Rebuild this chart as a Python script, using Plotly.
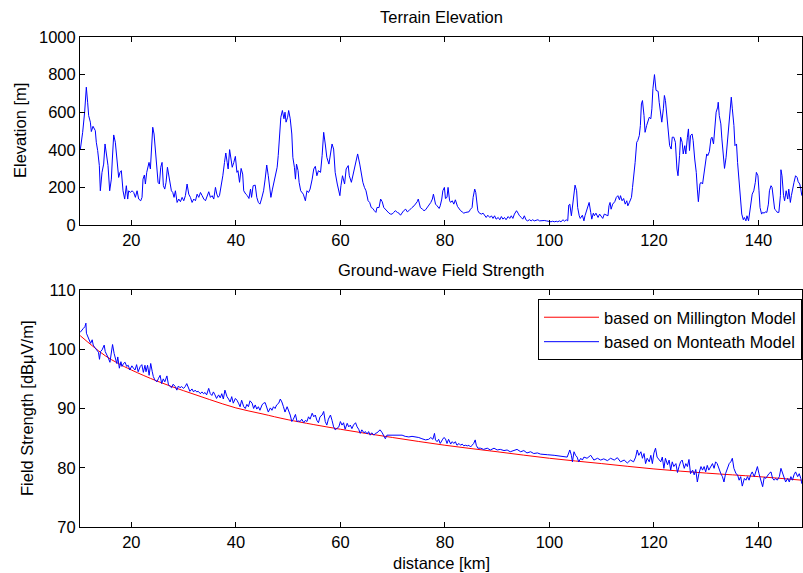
import plotly.graph_objects as go

# ---------------- data ----------------
elev_km = [10.23, 10.68, 11.06, 11.38, 11.63, 11.83, 12.15, 12.34, 12.66, 13.10, 13.29, 13.55, 13.87, 14.06, 14.38,
           14.70, 14.96, 15.21, 15.53, 15.85, 16.17, 16.36, 16.62, 16.93, 17.25, 17.57, 17.83, 18.08, 18.40, 18.72,
           19.04, 19.30, 19.49, 19.81, 20.13, 20.45, 20.77, 21.09, 21.40, 21.79, 22.04, 22.23, 22.49, 22.68, 22.94,
           23.19, 23.38, 23.64, 23.83, 24.09, 24.34, 24.60, 24.85, 25.11, 25.36, 25.62, 25.87, 26.13, 26.39, 26.64,
           26.90, 27.15, 27.41, 27.66, 27.92, 28.17, 28.43, 28.75, 29.07, 29.39, 29.71, 30.03, 30.34, 30.66, 30.98,
           31.30, 31.62, 31.94, 32.26, 32.58, 32.90, 33.22, 33.54, 33.86, 34.18, 34.50, 34.81, 35.13, 35.45, 35.77,
           36.09, 36.35, 36.60, 36.86, 37.18, 37.50, 37.82, 38.07, 38.33, 38.52,
           38.8, 39.0, 39.3, 39.6, 39.9, 40.2, 40.4, 40.7, 41.0, 41.3, 41.5, 41.9, 42.2, 42.5, 42.8, 43.0, 43.3, 43.7,
           44.0, 44.3, 44.6, 44.9, 45.3, 45.6, 45.9, 46.2, 46.5, 46.7, 47.0, 47.3, 47.6, 47.9, 48.1, 48.4, 48.6, 48.9,
           49.2, 49.4, 49.6, 49.9, 50.1, 50.4, 50.7, 50.9, 51.2, 51.4, 51.6, 51.9, 52.1, 52.4, 52.6, 52.9, 53.3, 53.6,
           53.9, 54.2, 54.6, 54.9, 55.2, 55.5, 55.8, 56.2, 56.5, 56.8, 57.1, 57.4, 57.8, 58.1, 58.4, 58.7, 59.0, 59.4,
           59.7, 59.9, 60.1, 60.4, 60.8, 61.1, 61.5, 61.7, 62.1, 62.4, 62.7, 63.0, 63.3, 63.7, 64.0, 64.3, 64.6, 64.9,
           65.3, 65.6, 65.9, 66.2, 66.5, 66.8, 67.0, 67.4, 67.7, 68.0, 68.3, 68.6, 69.0, 69.3, 69.6, 69.9, 70.2, 70.5,
           70.9, 71.2, 71.5, 71.8, 72.1, 72.5, 72.8, 73.1, 73.4, 73.7, 74.1, 74.4, 74.7, 74.9, 75.1, 75.3, 75.7, 76.0,
           76.3, 76.6, 76.9, 77.3, 77.6, 77.8, 78.0, 78.2, 78.5, 78.9, 79.1, 79.4, 79.6, 79.9, 80.1, 80.4, 80.6, 80.9,
           81.1, 81.4, 81.7, 82.0, 82.4, 82.7, 83.0, 83.3, 83.6, 84.0, 84.3, 84.6, 84.9, 85.2, 85.4, 85.7, 85.9, 86.1,
           86.3, 86.6, 87.0, 87.3, 87.6, 87.9, 88.2, 88.6, 88.9, 89.2, 89.5, 89.8, 90.2, 90.5, 90.8, 91.1, 91.4, 91.7,
           92.1, 92.4, 92.7, 93.0, 93.3, 93.7, 94.0, 94.2, 94.6, 94.9, 95.2, 95.5, 95.8, 96.2, 96.5, 96.8, 97.1, 97.4,
           97.8, 98.1, 98.4, 98.7, 99.0, 99.4, 99.7, 100.0, 100.3, 100.6, 101.0, 101.3, 101.6, 101.9, 102.2, 102.6,
           102.9, 103.2, 103.5, 103.7, 103.9, 104.2, 104.4, 104.7, 104.9, 105.2, 105.4, 105.7, 105.9, 106.3, 106.6,
           106.8, 107.1, 107.3, 107.6, 107.9, 108.1, 108.4, 108.6, 108.9, 109.3, 109.6, 109.9, 110.2, 110.5, 110.9,
           111.2, 111.4, 111.6, 111.8, 112.1, 112.5, 112.8, 113.1, 113.4, 113.6, 113.9, 114.2, 114.5, 114.8, 115.0,
           115.3, 115.7, 115.9, 116.2, 116.4, 116.7, 116.9, 117.2, 117.4, 117.6, 117.8, 118.1, 118.3, 118.6, 118.8,
           119.1, 119.4, 119.6, 119.8, 120.1, 120.4, 120.8, 121.0, 121.3, 121.5, 121.8, 122.0, 122.2, 122.5, 122.7,
           123.0, 123.3, 123.5, 123.8, 124.1, 124.4, 124.6, 124.9, 125.1, 125.4, 125.6, 125.9, 126.1, 126.4, 126.6,
           126.8, 127.0, 127.3, 127.5, 127.8, 128.1, 128.3, 128.5, 128.8, 129.0, 129.3, 129.6, 129.8, 130.1, 130.3,
           130.6, 130.9, 131.1, 131.4, 131.6, 131.9, 132.2, 132.3, 132.5, 132.8, 133.0, 133.3, 133.5, 133.8, 134.1,
           134.3, 134.6, 134.8, 135.0, 135.3, 135.5, 135.8, 136.0, 136.3, 136.5, 136.8, 137.1, 137.3, 137.6, 137.8,
           138.1, 138.3, 138.6, 138.8, 139.1, 139.4, 139.6, 139.9, 140.1, 140.3, 140.6, 140.8, 141.1, 141.3, 141.6,
           141.9, 142.1, 142.4, 142.6, 142.9, 143.1, 143.4, 143.6, 143.9, 144.2, 144.3, 144.5, 144.8, 145.0, 145.3,
           145.6, 145.8, 146.1, 146.3, 146.6, 146.8, 147.1, 147.4, 147.6, 147.9, 148.1, 148.3]

elev_m = [401, 493, 600, 733, 653, 582, 547, 497, 525, 502, 440, 396, 316, 182, 280,
          324, 431, 369, 316, 182, 244, 351, 479, 440, 342, 253, 280, 289, 182, 138,
          209, 138, 182, 173, 182, 173, 147, 182, 138, 129, 147, 244, 266, 218, 280,
          307, 333, 298, 422, 520, 484, 387, 333, 227, 218, 307, 333, 209, 191, 227,
          307, 262, 209, 182, 173, 147, 182, 120, 138, 124, 147, 129, 156, 218, 164,
          147, 120, 138, 129, 164, 147, 173, 156, 138, 129, 156, 177, 147, 156, 138,
          200, 164, 147, 156, 200, 262, 333, 383, 333, 298,
          401, 369, 307, 333, 365, 280, 289, 227, 301, 271, 182, 164, 156, 141, 191, 147, 209, 212,
          147, 120, 111, 138, 182, 244, 319, 262, 173, 147, 191, 227, 262, 307, 369, 476, 573, 609,
          565, 600, 547, 573, 609, 565, 484, 360, 307, 244, 324, 289, 227, 182, 173, 164, 129, 182,
          173, 191, 244, 298, 312, 262, 289, 280, 369, 493, 431, 360, 324, 387, 431, 404, 280, 218,
          182, 156, 209, 262, 218, 298, 316, 262, 227, 262, 298, 342, 378, 324, 262, 227, 200, 182,
          129, 120, 93, 88, 76, 67, 93, 93, 138, 124, 93, 84, 67, 63, 58, 58, 67, 76,
          67, 63, 52, 67, 76, 84, 70, 76, 88, 93, 102, 111, 124, 138, 111, 93, 84, 76,
          81, 93, 102, 120, 138, 164, 138, 111, 102, 88, 102, 138, 182, 200, 141, 147, 200, 129,
          120, 129, 111, 134, 99, 84, 76, 70, 63, 67, 67, 70, 84, 93, 147, 191, 173, 111,
          76, 63, 58, 63, 49, 40, 52, 40, 49, 35, 49, 31, 40, 28, 45, 31, 40, 28,
          45, 35, 49, 35, 58, 76, 63, 52, 40, 31, 49, 28, 22, 28, 22, 28, 22, 26,
          28, 22, 24, 22, 24, 22, 20, 22, 17, 20, 17, 20, 17, 22, 17, 28,
          20, 28, 22, 106, 111, 49, 93, 156, 212, 182, 93, 49, 35, 52, 22,
          49, 76, 102, 120, 67, 31, 63, 49, 63, 40, 58, 49, 35, 58, 52,
          49, 102, 120, 84, 111, 124, 147, 156, 134, 156, 129, 141, 111, 129, 102,
          120, 147, 200, 262, 333, 440, 449, 476, 529, 644, 662, 582, 493, 529, 547,
          573, 565, 618, 725, 800, 716, 711, 653, 600, 547, 618, 689, 662, 565, 493,
          422, 404, 467, 467, 440, 298, 262, 369, 467, 440, 378, 422, 378, 467, 511,
          396, 476, 484, 449, 351, 280, 191, 124, 218, 227, 218, 280, 316, 378, 369,
          390, 458, 467, 431, 511, 600, 627, 653, 582, 538, 458, 351, 301, 360, 449,
          529, 600, 680, 618, 529, 422, 431, 333, 227, 120, 58, 28, 40, 22, 49,
          22, 58, 111, 164, 182, 227, 280, 262, 182, 93, 58, 67, 63, 70, 67,
          111, 182, 209, 200, 120, 84, 76, 67, 67, 156, 294, 262, 156, 129, 182,
          138, 191, 120, 156, 209, 227, 262, 253, 230, 218, 191, 156]

mill_km = [10.2, 12.5, 15, 17.5, 20, 25, 30, 35, 40, 45, 50, 60, 70, 80, 90, 100, 110, 120, 130, 140, 148.3]
mill_db = [102.3, 100.6, 98.9, 97.6, 96.5, 94.6, 93.0, 91.5, 90.1, 89.1, 88.1, 86.5, 85.1, 83.8, 82.7, 81.6,
           80.7, 79.8, 79.1, 78.5, 77.9]

mont_km = [10.2, 10.5, 10.8, 11.1, 11.3, 11.4, 11.7, 12.0, 12.2, 12.5, 12.7, 13.0, 13.4, 13.7, 13.9, 14.1, 14.4,
           14.8, 15.0, 15.3, 15.6, 15.9, 16.2, 16.4, 16.7, 16.9, 17.2, 17.4, 17.7, 18.0, 18.2, 18.5, 18.8, 19.1,
           19.4, 19.7, 20.1, 20.4, 20.7, 21.0, 21.3, 21.7, 22.0, 22.3, 22.6, 22.8, 23.1, 23.4, 23.7, 24.0, 24.2,
           24.5, 24.9, 25.2, 25.5, 25.8, 26.1, 26.4, 26.8, 27.1, 27.4, 27.7, 28.0, 28.4, 28.7, 29.0, 29.3, 29.6,
           30.0, 30.3, 30.6, 30.9, 31.2, 31.6, 31.9, 32.2, 32.5, 32.8, 33.2, 33.5, 33.8, 34.1, 34.4, 34.8, 35.1,
           35.4, 35.7, 36.0, 36.3, 36.7, 37.0, 37.3, 37.6, 37.9, 38.3, 38.6, 38.9, 39.2, 39.5, 39.9, 40.2, 40.5,
           40.8, 41.1, 41.5, 41.8, 42.1, 42.4, 42.7, 43.1, 43.4, 43.7, 44.0, 44.3, 44.6, 45.0, 45.3, 45.6, 45.9,
           46.2, 46.6, 46.9, 47.2, 47.5, 47.8, 48.2, 48.5, 48.8, 49.1, 49.4, 49.8, 50.1, 50.4, 50.7, 51.0, 51.4,
           51.7, 52.0, 52.3, 52.6, 53.0, 53.3, 53.6, 53.9, 54.2, 54.6, 54.9, 55.2, 55.5, 55.8, 56.1, 56.5, 56.8,
           57.1, 57.4, 57.7, 58.1, 58.4, 58.7, 59.0, 59.3, 59.7, 60.0, 60.3, 60.6, 60.9, 61.3, 61.6, 61.9, 62.2,
           62.5, 62.9, 63.2, 63.5, 63.8, 64.1, 64.5, 64.8, 65.1, 65.4, 65.7, 66.0, 66.4, 66.7, 67.0, 67.3, 67.6,
           68.0, 68.3, 68.6, 68.9, 69.2, 69.9, 70.5, 71.2, 71.8, 72.4, 73.1, 73.7, 74.4, 75.0, 75.6, 76.3, 76.9,
           77.3, 77.7, 78.0, 78.2, 78.5, 78.8, 79.1, 79.5, 79.8, 80.1, 80.4, 80.7, 81.1, 81.4, 81.7, 82.0, 82.3,
           82.7, 83.0, 83.3, 83.6, 83.9, 84.3, 84.6, 84.9, 85.2, 85.5, 85.8, 86.0, 86.3, 86.8, 87.4, 88.1, 88.7,
           89.4, 90.0, 90.6, 91.3, 91.9, 92.5, 93.2, 93.8, 94.5, 95.1, 95.7, 96.4, 97.0, 97.7, 98.3, 98.9, 99.6,
           100.9, 102.1, 103.4, 103.9, 104.2, 104.4, 104.7, 105.0, 105.3, 105.6, 106.0, 106.3, 106.6, 107.2,
           107.9, 108.5, 109.2, 109.8, 110.4, 111.1, 111.7, 112.4, 113.0, 113.6, 114.3, 114.9, 115.5, 116.1,
           116.5, 116.8, 117.1, 117.5, 117.8, 118.1, 118.4, 118.7, 119.1, 119.4, 119.7, 120.0, 120.3, 120.6,
           121.0, 121.3, 121.6, 121.9, 122.2, 122.6, 122.9, 123.2, 123.5, 123.8, 124.2, 124.5, 124.8, 125.1,
           125.4, 125.8, 126.1, 126.4, 126.7, 127.0, 127.4, 127.7, 128.0, 128.3, 128.6, 129.0, 129.3, 129.6,
           129.9, 130.2, 130.5, 130.9, 131.2, 131.5, 131.8, 132.1, 132.5, 132.8, 133.1, 133.4, 133.7, 134.1,
           134.4, 134.7, 135.0, 135.3, 135.7, 136.0, 136.3, 136.6, 136.9, 137.3, 137.6, 137.9, 138.2, 138.5,
           138.8, 139.2, 139.5, 139.8, 140.1, 140.4, 140.8, 141.1, 141.4, 141.7, 142.0, 142.4, 142.7, 143.0,
           143.3, 143.6, 144.0, 144.3, 144.6, 144.9, 145.2, 145.6, 145.9, 146.2, 146.5, 146.8, 147.1, 147.5,
           147.8, 148.1, 148.3]

mont_db = [102.85, 103.1, 103.5, 103.8, 104.4, 102.7, 102.1, 101.6, 101.0, 101.6, 100.7, 100.3, 99.9, 99.5, 98.3,
           99.6, 99.9, 100.7, 99.6, 99.1, 98.5, 97.8, 99.9, 100.8, 99.3, 98.5, 97.6, 98.7, 96.8, 97.9, 97.1, 97.6,
           97.8, 97.1, 97.3, 96.5, 97.2, 96.8, 96.5, 97.4, 96.2, 97.1, 97.4, 96.1, 97.3, 96.2, 97.3, 95.6, 97.6,
           96.2, 95.4, 94.8, 94.5, 95.1, 95.6, 94.2, 95.0, 94.5, 95.5, 94.0, 93.7, 93.5, 94.1, 93.7, 93.1, 93.8,
           93.5, 93.7, 93.4, 93.7, 94.2, 93.4, 92.9, 93.3, 92.8, 93.1, 92.8, 92.9, 92.5, 92.8, 92.5, 92.7, 92.3,
           93.4, 92.5, 92.2, 92.8, 92.3, 91.7, 92.3, 91.8, 92.5, 91.6, 93.1, 92.0, 91.6, 91.1, 92.0, 90.9, 91.7,
           91.4, 90.9, 90.3, 91.4, 90.3, 90.0, 90.7, 90.3, 91.3, 90.9, 90.0, 90.6, 89.9, 90.3, 89.7, 90.6, 90.9,
           91.0, 90.3, 89.4, 90.1, 89.7, 90.3, 90.0, 90.6, 90.9, 91.6, 91.1, 90.3, 89.4, 90.3, 89.7, 88.9, 87.8,
           88.2, 89.0, 87.8, 87.9, 87.8, 88.2, 87.6, 88.0, 87.8, 88.6, 88.2, 89.2, 88.6, 88.9, 88.0, 87.6, 88.6,
           88.9, 89.5, 87.8, 87.2, 88.2, 88.9, 88.0, 86.9, 86.4, 86.6, 86.9, 87.8, 87.2, 87.6, 86.5, 87.5, 86.9,
           87.2, 86.6, 87.2, 87.6, 86.9, 86.5, 85.8, 86.4, 85.9, 86.1, 85.7, 86.1, 85.5, 85.9, 85.5, 85.8, 85.9,
           86.2, 86.4, 85.9, 85.5, 84.9, 85.5, 85.5, 85.4, 85.5, 85.4, 85.5, 85.3, 85.2, 85.3, 85.2, 85.1, 84.9,
           84.7, 84.8, 85.1, 84.8, 85.8, 84.7, 84.4, 84.8, 84.1, 84.7, 85.1, 84.9, 84.1, 84.8, 84.0, 84.4, 84.1,
           84.4, 83.8, 84.1, 83.8, 84.0, 83.7, 83.8, 83.7, 83.8, 83.5, 83.8, 84.1, 84.7, 83.8, 83.3, 83.3, 83.1,
           83.3, 83.0, 83.3, 83.0, 83.1, 82.9, 83.0, 82.7, 82.9, 83.1, 82.7, 82.9, 82.5, 82.7, 82.4, 82.5, 82.3,
           82.3, 82.2, 82.1, 82.0, 81.8, 83.0, 82.1, 81.0, 82.7, 82.1, 81.8, 81.0, 81.6, 81.3, 81.8, 81.6, 82.1,
           81.3, 81.6, 81.3, 81.5, 81.2, 81.6, 81.3, 81.7, 81.0, 81.3, 80.8, 81.3, 81.0, 81.8, 83.0, 82.1, 82.7,
           81.6, 82.4, 80.7, 81.6, 81.0, 82.1, 80.7, 82.5, 83.3, 81.8, 81.3, 81.0, 81.8, 79.9, 81.6, 80.5, 81.3,
           79.6, 81.0, 80.2, 80.7, 79.2, 80.2, 81.0, 81.3, 79.9, 80.7, 80.2, 81.4, 79.0, 79.6, 78.8, 79.7, 77.6,
           79.0, 80.2, 79.6, 80.2, 79.3, 80.4, 79.6, 80.2, 80.7, 79.9, 81.0, 80.7, 79.6, 79.0, 78.5, 77.6, 79.0,
           79.9, 80.7, 81.0, 81.6, 79.9, 79.0, 78.8, 77.9, 78.5, 76.9, 78.2, 77.9, 78.5, 77.9, 78.8, 79.3, 78.5,
           79.6, 80.2, 79.0, 78.2, 76.8, 78.4, 78.2, 78.6, 79.0, 79.3, 78.2, 77.9, 78.2, 77.9, 78.5, 79.9, 79.0,
           78.2, 77.6, 78.2, 77.6, 78.5, 77.9, 78.8, 79.3, 78.5, 79.0, 78.2, 77.3]

dist_ticks = [20, 40, 60, 80, 100, 120, 140]
elev_ticks = [0, 200, 400, 600, 800, 1000]
fs_ticks = [70, 80, 90, 100, 110]

# ---------------- figure ----------------
FONT = "Liberation Sans, Arial, Helvetica, sans-serif"
FS = 16.5
fig = go.Figure()

fig.add_trace(go.Scatter(x=elev_km, y=elev_m, mode="lines", xaxis="x", yaxis="y",
                         line=dict(color="#0000ff", width=1), showlegend=False, hoverinfo="x+y"))
fig.add_trace(go.Scatter(x=mill_km, y=mill_db, mode="lines", xaxis="x2", yaxis="y2",
                         line=dict(color="#ff0000", width=1, shape="spline"),
                         name="based on Millington Model"))
fig.add_trace(go.Scatter(x=mont_km, y=mont_db, mode="lines", xaxis="x2", yaxis="y2",
                         line=dict(color="#0000ff", width=1),
                         name="based on Monteath Model"))

axis_common = dict(showline=True, linecolor="#000000", linewidth=1, mirror="ticks",
                   ticks="inside", ticklen=5, tickcolor="#000000", tickwidth=1,
                   showgrid=False, zeroline=False,
                   tickfont=dict(family=FONT, size=FS, color="#000000"))

H_TOP = 37
H_BOT = 46
PLOT_H = 573 - H_TOP - H_BOT  # 490


def py(pix):
    return (573 - H_BOT - pix) / PLOT_H


def px(pix):
    return (pix - 80) / (803 - 80 - 1)


fig.update_layout(
    width=803, height=573,
    margin=dict(l=80, r=1, t=H_TOP, b=H_BOT),
    paper_bgcolor="white", plot_bgcolor="white",
    font=dict(family=FONT, size=FS, color="#000000"),
    xaxis=dict(axis_common, domain=[0, 1], range=[10.17, 148.33], tickvals=dist_ticks, anchor="y"),
    yaxis=dict(axis_common, domain=[py(225), 1], range=[0, 1000], tickvals=elev_ticks, anchor="x"),
    xaxis2=dict(axis_common, domain=[0, 1], range=[10.17, 148.33], tickvals=dist_ticks, anchor="y2"),
    yaxis2=dict(axis_common, domain=[0, py(290)], range=[70, 110], tickvals=fs_ticks, anchor="x2"),
    legend=dict(x=1, xanchor="right", y=py(299), yanchor="top",
                bgcolor="white", bordercolor="#000000", borderwidth=1,
                font=dict(family=FONT, size=FS, color="#000000"),
                tracegroupgap=0, itemwidth=55),
    showlegend=True,
    annotations=[
        dict(text="Terrain Elevation", x=0.5, y=py(17), xref="paper", yref="paper",
             showarrow=False, xanchor="center", yanchor="middle", font=dict(size=FS)),
        dict(text="Ground-wave Field Strength", x=0.5, y=py(270), xref="paper", yref="paper",
             showarrow=False, xanchor="center", yanchor="middle", font=dict(size=FS)),
        dict(text="Elevation [m]", x=px(20), y=py(131), xref="paper", yref="paper", textangle=-90,
             showarrow=False, xanchor="center", yanchor="middle", font=dict(size=FS)),
        dict(text="Field Strength [dBμV/m]", x=px(27), y=py(408), xref="paper", yref="paper",
             textangle=-90, showarrow=False, xanchor="center", yanchor="middle", font=dict(size=FS)),
        dict(text="distance [km]", x=0.5, y=py(563), xref="paper", yref="paper",
             showarrow=False, xanchor="center", yanchor="middle", font=dict(size=FS)),
    ],
)

fig.write_html("out.html", config={"displayModeBar": False},
               post_script="document.body.style.margin='0px';document.body.style.overflow='hidden';")
